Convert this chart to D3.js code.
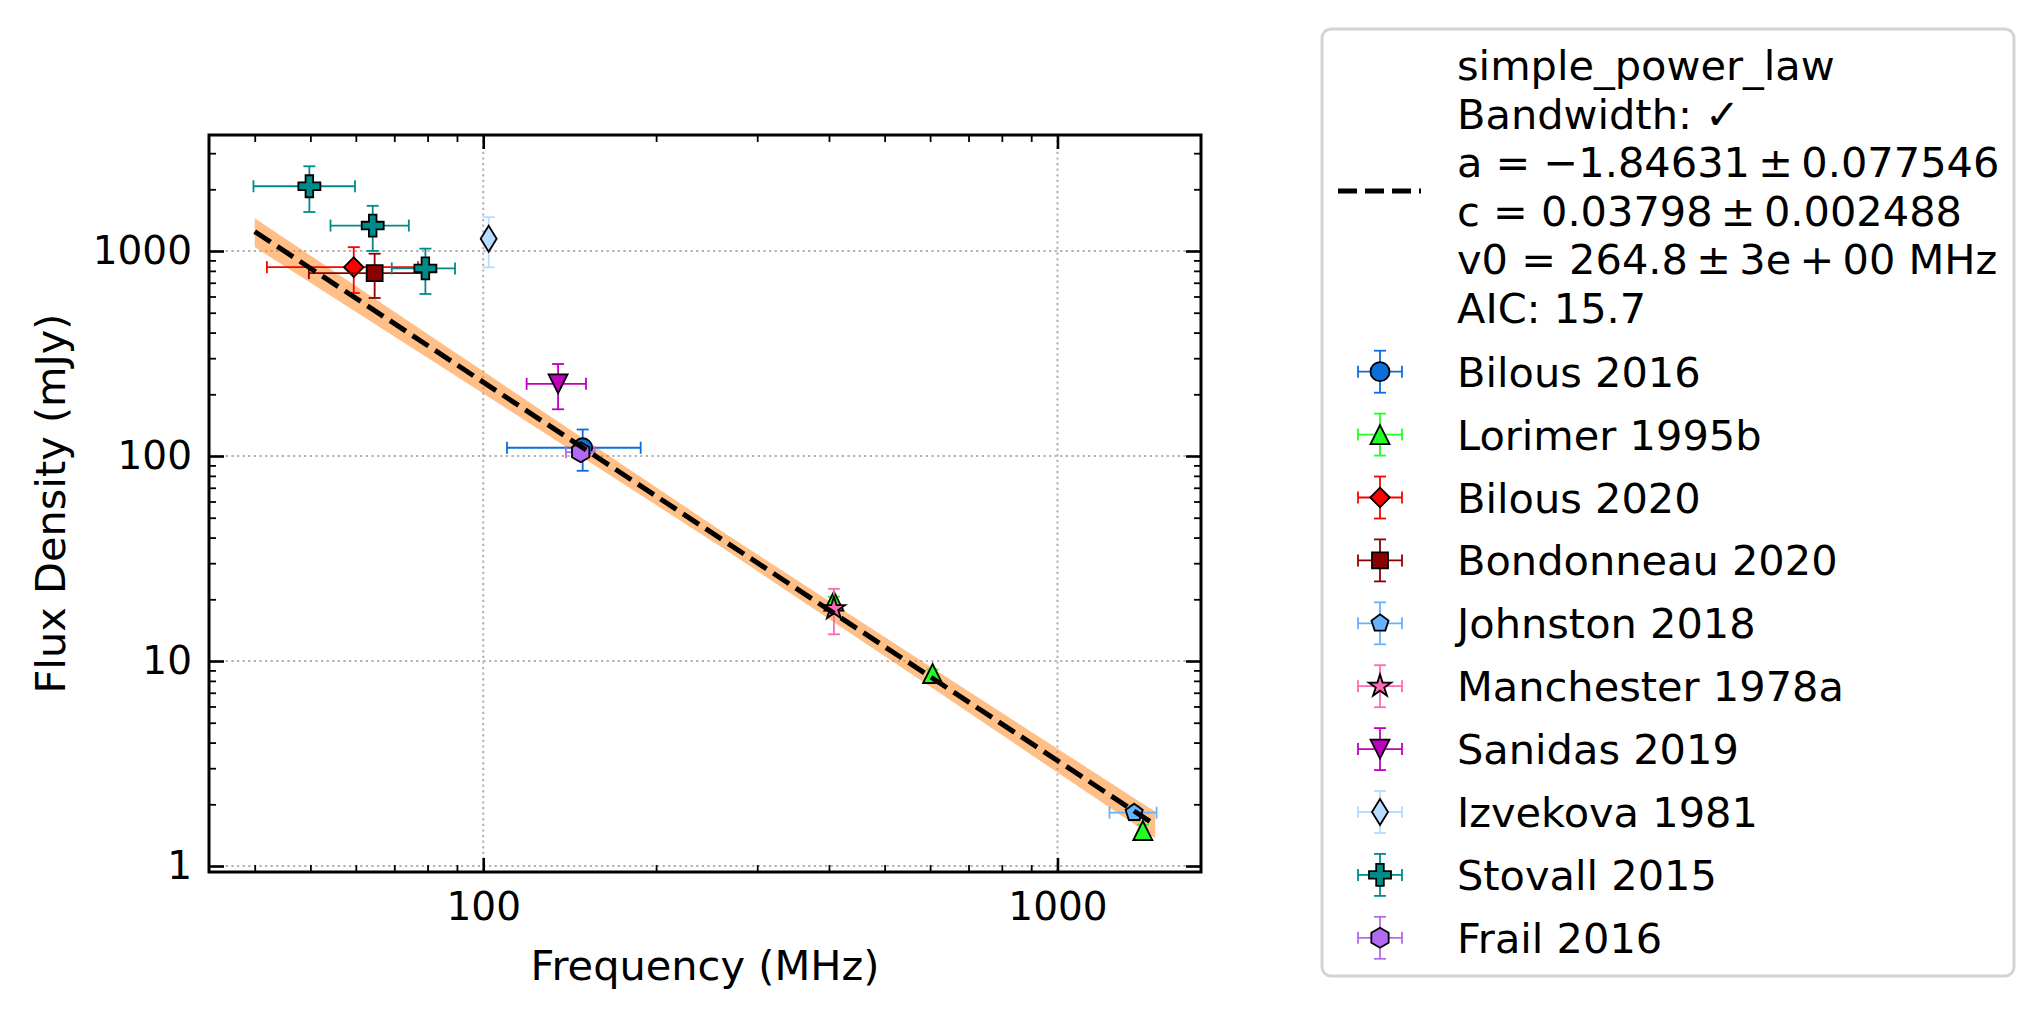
<!DOCTYPE html>
<html>
<head>
<meta charset="utf-8">
<script src="https://cdn.jsdelivr.net/npm/d3@7"></script>
<style>
  body { margin: 0; background: #fff; }
  text { font-family: "DejaVu Sans", sans-serif; fill: #000; }
</style>
</head>
<body>
<div id="chart"></div>
<script>
// ---- data ----
const sourceNames = ["Bilous 2016", "Lorimer 1995b", "Bilous 2020", "Bondonneau 2020", "Johnston 2018",
  "Manchester 1978a", "Sanidas 2019", "Izvekova 1981", "Stovall 2015", "Frail 2016"];
const sourceColors = ["#0b6fd9", "#22ff22", "#ff0000", "#8b0000", "#66b2ff",
  "#ff69b4", "#bf00bf", "#b8dcff", "#008b8b", "#b26af2"];
const sourceMarkers = ["o", "^", "D", "s", "p", "*", "v", "d", "P", "h"];

// one entry per measurement, pointSource indexes sourceNames
const pointSource = [0, 1, 1, 1, 2, 3, 4, 5, 6, 7, 8, 8, 8, 9];
const pointFreq = [149, 408, 606, 1408, 59.5, 64.7, 1360, 408, 135, 102.2, 49.8, 64.2, 79.3, 147.8];
const pointFreqErr = [39, 0, 0, 0, 17.5, 15, 128, 0, 16, 0, 10, 10, 10, 8.5];
const pointFlux = [109.7, 19.6, 8.69, 1.49, 834, 780, 1.82, 18.0, 225, 1147, 2070, 1331, 822, 104.4];
const pointFluxErr = [25, 1.0, 0.4, 0.1, 210, 190, 0.15, 4.5, 56, 315, 520, 330, 205, 8];

// fitted model and its uncertainty band
const fitFreq = [40, 1480];
const fitFlux = [1244, 1.585];
const bandFreq = [40, 100, 265, 600, 1480];
const bandUpper = [1445, 259, 41.5, 9.4, 1.84];
const bandLower = [1045, 202, 34.7, 7.5, 1.365];

// mathtext style: thin spaces around the binary operators
const fitLabel = ["simple_power_law", "Bandwidth: \u2713", "a = \u22121.84631\u2009\u00b1\u20090.077546",
  "c = 0.03798\u2009\u00b1\u20090.002488", "v0 = 264.8\u2009\u00b1\u20093e\u2009+\u200900 MHz", "AIC: 15.7"];

const xTicks = [100, 1000];
const xMinor = [40, 50, 60, 70, 80, 90, 200, 300, 400, 500, 600, 700, 800, 900];
const yTicks = [1, 10, 100, 1000];
const yMinor = [2, 3, 4, 5, 6, 7, 8, 9, 20, 30, 40, 50, 60, 70, 80, 90,
  200, 300, 400, 500, 600, 700, 800, 900, 2000, 3000];

// ---- canvas ----
const W = 2042, H = 1018;
const margin = { left: 209, top: 135 };
const width = 992, height = 737;

const svg = d3.select('#chart').append('svg')
  .attr('width', W).attr('height', H);
svg.append('rect').attr('width', W).attr('height', H).attr('fill', '#fff');

const g = svg.append('g').attr('transform', `translate(${margin.left}, ${margin.top})`);

const x = d3.scaleLog().domain([33.3, 1778]).range([0, width]);
const y = d3.scaleLog().domain([0.935, 3680]).range([height, 0]);

// grid
const grid = g.append('g').attr('stroke', '#b0b0b0').attr('stroke-width', 2)
  .attr('stroke-dasharray', '2.2,3.4');
grid.selectAll('.gx').data(xTicks).enter().append('line')
  .attr('x1', d => x(d)).attr('x2', d => x(d)).attr('y1', 0).attr('y2', height);
grid.selectAll('.gy').data(yTicks).enter().append('line')
  .attr('y1', d => y(d)).attr('y2', d => y(d)).attr('x1', 0).attr('x2', width);

// uncertainty band
const band = bandFreq.map((f, i) => ({ f: f, lo: bandLower[i], hi: bandUpper[i] }));
g.append('path').datum(band)
  .attr('fill', '#ff7f0e').attr('fill-opacity', 0.5)
  .attr('d', d3.area().x(d => x(d.f)).y0(d => y(d.lo)).y1(d => y(d.hi)));

// marker shapes
const poly = pts => 'M' + pts.map(p => p[0].toFixed(2) + ',' + p[1].toFixed(2)).join('L') + 'Z';
const regular = (n, r) => d3.range(n).map(k => {
  const a = -Math.PI / 2 + k * 2 * Math.PI / n;
  return [r * Math.cos(a), r * Math.sin(a)];
});
function markerPath(m) {
  switch (m) {
    case 'o': return d3.symbol(d3.symbolCircle, Math.PI * 9.5 * 9.5)();
    case '^': return poly([[0, -9.5], [9.5, 9.5], [-9.5, 9.5]]);
    case 'v': return poly([[0, 9.5], [9.5, -9.5], [-9.5, -9.5]]);
    case 's': return poly([[-8, -8], [8, -8], [8, 8], [-8, 8]]);
    case 'D': return poly([[0, -9.8], [9.8, 0], [0, 9.8], [-9.8, 0]]);
    case 'd': return poly([[0, -13], [8, 0], [0, 13], [-8, 0]]);
    case 'p': return poly(regular(5, 9));
    case 'h': return poly(regular(6, 10));
    case '*': return poly(d3.range(10).map(k => {
      const a = -Math.PI / 2 + k * Math.PI / 5, r = k % 2 ? 4.5 : 11.8;
      return [r * Math.cos(a), r * Math.sin(a)];
    }));
    case 'P': return poly([[-3.8, -11], [3.8, -11], [3.8, -3.8], [11, -3.8], [11, 3.8], [3.8, 3.8], [3.8, 11],
      [-3.8, 11], [-3.8, 3.8], [-11, 3.8], [-11, -3.8], [-3.8, -3.8]]);
  }
}

// error bar glyph centred at (cx, cy)
function drawErr(sel, color, x1, x2, y1, y2, cx, cy) {
  const e = sel.append('g').attr('stroke', color).attr('stroke-width', 1.8).attr('fill', 'none');
  if (x2 - x1 > 0.5) {
    e.append('line').attr('x1', x1).attr('x2', x2).attr('y1', cy).attr('y2', cy);
    [x1, x2].forEach(xx => e.append('line').attr('x1', xx).attr('x2', xx).attr('y1', cy - 6).attr('y2', cy + 6));
  }
  if (y2 - y1 > 0.5) {
    e.append('line').attr('x1', cx).attr('x2', cx).attr('y1', y1).attr('y2', y2);
    [y1, y2].forEach(yy => e.append('line').attr('y1', yy).attr('y2', yy).attr('x1', cx - 6).attr('x2', cx + 6));
  }
}

// data points, series by series
const points = g.append('g');
sourceNames.forEach((name, s) => {
  const color = sourceColors[s];
  const idx = d3.range(pointFreq.length).filter(i => pointSource[i] === s);
  idx.forEach(i => {
    const cx = x(pointFreq[i]), cy = y(pointFlux[i]);
    drawErr(points, color,
      x(pointFreq[i] - pointFreqErr[i]), x(pointFreq[i] + pointFreqErr[i]),
      y(pointFlux[i] + pointFluxErr[i]), y(pointFlux[i] - pointFluxErr[i]), cx, cy);
  });
  points.selectAll(null).data(idx).enter().append('path')
    .attr('d', markerPath(sourceMarkers[s]))
    .attr('transform', i => `translate(${x(pointFreq[i])}, ${y(pointFlux[i])})`)
    .attr('fill', color).attr('stroke', '#000').attr('stroke-width', 1.8)
    .attr('stroke-linejoin', 'miter');
});

// fit line
const fit = fitFreq.map((f, i) => ({ f: f, s: fitFlux[i] }));
g.append('path').datum(fit)
  .attr('fill', 'none').attr('stroke', '#000').attr('stroke-width', 5)
  .attr('stroke-dasharray', '19,8')
  .attr('d', d3.line().x(d => x(d.f)).y(d => y(d.s)));

// axes: inward ticks on all four sides
function styleAxis(sel, w) {
  sel.select('.domain').remove();
  sel.selectAll('.tick line').attr('stroke', '#000').attr('stroke-width', w);
  sel.selectAll('.tick text').attr('font-size', '39px')
    .style('font-family', '"DejaVu Sans", sans-serif').attr('fill', '#000');
}
g.append('g').attr('transform', `translate(0, ${height})`)
  .call(d3.axisBottom(x).tickValues(xTicks).tickFormat(d3.format('d'))
    .tickSizeInner(-14).tickSizeOuter(0).tickPadding(20))
  .call(a => styleAxis(a, 2.6));
g.append('g').attr('transform', `translate(0, ${height})`)
  .call(d3.axisBottom(x).tickValues(xMinor).tickFormat('').tickSizeInner(-7).tickSizeOuter(0))
  .call(a => styleAxis(a, 1.8));
g.append('g')
  .call(d3.axisTop(x).tickValues(xTicks).tickFormat('').tickSizeInner(-14).tickSizeOuter(0))
  .call(a => styleAxis(a, 2.6));
g.append('g')
  .call(d3.axisTop(x).tickValues(xMinor).tickFormat('').tickSizeInner(-7).tickSizeOuter(0))
  .call(a => styleAxis(a, 1.8));
g.append('g')
  .call(d3.axisLeft(y).tickValues(yTicks).tickFormat(d3.format('d'))
    .tickSizeInner(-15).tickSizeOuter(0).tickPadding(17))
  .call(a => styleAxis(a, 2.6));
g.append('g')
  .call(d3.axisLeft(y).tickValues(yMinor).tickFormat('').tickSizeInner(-7).tickSizeOuter(0))
  .call(a => styleAxis(a, 1.8));
g.append('g').attr('transform', `translate(${width}, 0)`)
  .call(d3.axisRight(y).tickValues(yTicks).tickFormat('').tickSizeInner(-15).tickSizeOuter(0))
  .call(a => styleAxis(a, 2.6));
g.append('g').attr('transform', `translate(${width}, 0)`)
  .call(d3.axisRight(y).tickValues(yMinor).tickFormat('').tickSizeInner(-7).tickSizeOuter(0))
  .call(a => styleAxis(a, 1.8));

// frame
g.append('rect').attr('width', width).attr('height', height)
  .attr('fill', 'none').attr('stroke', '#000').attr('stroke-width', 3);

// axis labels
g.append('text')
  .attr('x', width / 2).attr('y', 845)
  .attr('text-anchor', 'middle').attr('font-size', '41.5px')
  .text('Frequency (MHz)');
svg.append('text')
  .attr('transform', `translate(50, ${margin.top + height / 2}) rotate(-90)`)
  .attr('text-anchor', 'middle').attr('dy', '0.35em').attr('font-size', '41.5px')
  .text('Flux Density (mJy)');

// legend
const legend = svg.append('g');
legend.append('rect')
  .attr('x', 1322).attr('y', 29).attr('width', 692).attr('height', 947).attr('rx', 9)
  .attr('fill', '#fff').attr('stroke', '#d4d4d4').attr('stroke-width', 3);

legend.append('line')
  .attr('x1', 1338).attr('x2', 1421).attr('y1', 191).attr('y2', 191)
  .attr('stroke', '#000').attr('stroke-width', 5).attr('stroke-dasharray', '19,8');
legend.selectAll('.fitline').data(fitLabel).enter().append('text')
  .attr('x', 1457).attr('y', (d, i) => 80 + i * 48.5)
  .attr('font-size', '41.5px')
  .text(d => d);

sourceNames.forEach((name, s) => {
  const base = 386.7 + s * 62.9;
  const cx = 1380, cy = base - 15;
  drawErr(legend, sourceColors[s], cx - 22, cx + 22, cy - 21, cy + 21, cx, cy);
  legend.append('path').attr('d', markerPath(sourceMarkers[s]))
    .attr('transform', `translate(${cx}, ${cy})`)
    .attr('fill', sourceColors[s]).attr('stroke', '#000').attr('stroke-width', 1.8);
  legend.append('text').attr('x', 1457).attr('y', base)
    .attr('font-size', '41.5px').text(name);
});
</script>
</body>
</html>
